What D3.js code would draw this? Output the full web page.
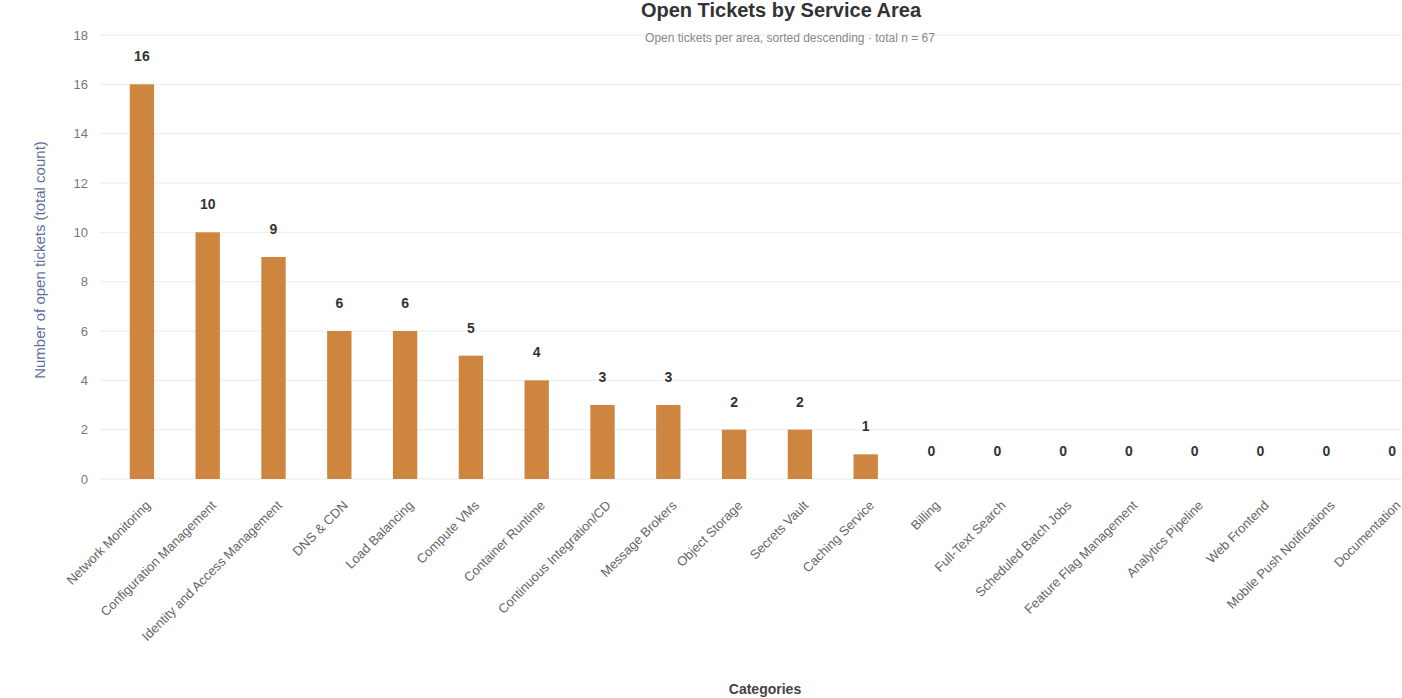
<!DOCTYPE html>
<html>
<head>
<meta charset="utf-8">
<script src="https://cdn.jsdelivr.net/npm/d3@7/dist/d3.min.js"></script>
<style>
  html, body { margin: 0; padding: 0; background: #fff; overflow: hidden; }
  svg { display: block; font-family: "Liberation Sans", Arial, sans-serif; }
</style>
</head>
<body>
<div id="chart"></div>
<script>
const categories = [
  "Network Monitoring",
  "Configuration Management",
  "Identity and Access Management",
  "DNS & CDN",
  "Load Balancing",
  "Compute VMs",
  "Container Runtime",
  "Continuous Integration/CD",
  "Message Brokers",
  "Object Storage",
  "Secrets Vault",
  "Caching Service",
  "Billing",
  "Full-Text Search",
  "Scheduled Batch Jobs",
  "Feature Flag Management",
  "Analytics Pipeline",
  "Web Frontend",
  "Mobile Push Notifications",
  "Documentation"
];
const values = [16, 10, 9, 6, 6, 5, 4, 3, 3, 2, 2, 1, 0, 0, 0, 0, 0, 0, 0, 0];
const yTickValues = [0, 2, 4, 6, 8, 10, 12, 14, 16, 18];
const titleText = "Open Tickets by Service Area";
const subtitleText = "Open tickets per area, sorted descending · total n = 67";
const yAxisTitle = "Number of open tickets (total count)";
const xAxisTitle = "Categories";

const W = 1402, H = 698;
const plot = { left: 100, right: 1462, top: 35, bottom: 479 };

const svg = d3.select("#chart").append("svg")
  .attr("width", W).attr("height", H);

const x = d3.scaleBand()
  .domain(categories)
  .range([109, 1425])
  .paddingInner(0.63)
  .paddingOuter(0.315);

const y = d3.scaleLinear()
  .domain([0, 18])
  .range([plot.bottom, plot.top]);

// gridlines
svg.append("g")
  .selectAll("line")
  .data(yTickValues)
  .join("line")
  .attr("x1", plot.left)
  .attr("x2", plot.right)
  .attr("y1", d => y(d))
  .attr("y2", d => y(d))
  .attr("stroke", "#ececec")
  .attr("stroke-width", 1);

// y axis
const yAxis = svg.append("g")
  .attr("transform", `translate(${plot.left},0)`)
  .call(d3.axisLeft(y).tickValues(yTickValues).tickSize(0).tickPadding(12));
yAxis.select(".domain").remove();
yAxis.selectAll("text")
  .attr("fill", "#777")
  .style("font-size", "13px");

// bars
svg.append("g")
  .selectAll("rect")
  .data(values)
  .join("rect")
  .attr("x", (d, i) => x(categories[i]))
  .attr("width", x.bandwidth())
  .attr("y", d => y(d))
  .attr("height", d => y(0) - y(d))
  .attr("fill", "#cd853f");

// value labels
svg.append("g")
  .selectAll("text")
  .data(values)
  .join("text")
  .attr("x", (d, i) => x(categories[i]) + x.bandwidth() / 2)
  .attr("y", d => y(d) - 23)
  .attr("text-anchor", "middle")
  .attr("fill", "#333")
  .style("font-size", "14px")
  .style("font-weight", "bold")
  .text(d => d);

// x axis labels
const xAxis = svg.append("g")
  .attr("transform", `translate(0,${plot.bottom})`)
  .call(d3.axisBottom(x).tickSize(0).tickPadding(0));
xAxis.select(".domain").remove();
xAxis.selectAll("text")
  .attr("fill", "#666")
  .style("font-size", "13px")
  .attr("text-anchor", "end")
  .attr("transform", "translate(6,24) rotate(-45)")
  .attr("dy", "0.35em");

// title and subtitle
svg.append("text")
  .attr("x", 781).attr("y", 17)
  .attr("text-anchor", "middle")
  .attr("fill", "#333")
  .style("font-size", "20px")
  .style("font-weight", "bold")
  .text(titleText);

svg.append("text")
  .attr("x", 790).attr("y", 42)
  .attr("text-anchor", "middle")
  .attr("fill", "#888")
  .style("font-size", "12px")
  .text(subtitleText);

// y axis title
svg.append("text")
  .attr("transform", `translate(45,260) rotate(-90)`)
  .attr("text-anchor", "middle")
  .attr("fill", "#5f7198")
  .style("font-size", "15px")
  .text(yAxisTitle);

// x axis title
svg.append("text")
  .attr("x", 765).attr("y", 694)
  .attr("text-anchor", "middle")
  .attr("fill", "#444")
  .style("font-size", "14px")
  .style("font-weight", "bold")
  .text(xAxisTitle);
</script>
</body>
</html>
